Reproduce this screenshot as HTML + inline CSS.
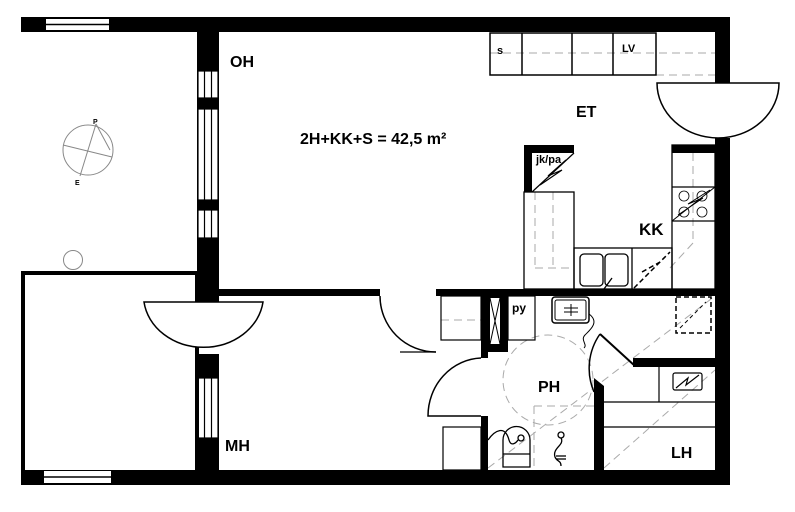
<!DOCTYPE html>
<html><head><meta charset="utf-8"><style>
html,body{margin:0;padding:0;background:#fff;}
svg{display:block;}
text{font-family:"Liberation Sans",Arial,sans-serif;font-weight:bold;fill:#000;}
</style></head><body>
<svg width="795" height="512" viewBox="0 0 795 512" xmlns="http://www.w3.org/2000/svg">
<rect width="795" height="512" fill="#fff"/>
<!-- dashed helper lines -->
<g stroke="#aaa" stroke-width="1" stroke-dasharray="8,5" fill="none">
<line x1="490" y1="53" x2="715" y2="53"/>
<line x1="656" y1="75" x2="715" y2="75"/>
<line x1="535" y1="192" x2="535" y2="268"/>
<line x1="535" y1="268" x2="574" y2="268"/>
<line x1="553" y1="192" x2="553" y2="268"/>
<line x1="693" y1="153" x2="693" y2="243"/>
<line x1="693" y1="243" x2="670" y2="268"/>
<line x1="441" y1="320" x2="481" y2="320"/>
<circle cx="548" cy="380" r="45"/>
<line x1="534" y1="406" x2="594" y2="406"/>
<line x1="534" y1="406" x2="534" y2="468"/>
<line x1="488" y1="468" x2="715" y2="296"/>
<line x1="604" y1="468" x2="715" y2="370"/>
</g>
<!-- outer walls -->
<rect x="21" y="17" width="709" height="15" fill="#000"/>
<rect x="21" y="470" width="709" height="15" fill="#000"/>
<rect x="715" y="17" width="15" height="66" fill="#000"/>
<rect x="715" y="138" width="15" height="347" fill="#000"/>
<!-- top-left window -->
<rect x="46" y="19" width="63" height="11" fill="#fff"/>
<line x1="46" y1="24.5" x2="109" y2="24.5" stroke="#000" stroke-width="1.5"/>
<!-- bottom-left window -->
<rect x="44" y="471" width="67" height="12" fill="#fff"/>
<line x1="44" y1="477" x2="111" y2="477" stroke="#000" stroke-width="1.5"/>
<!-- central vertical wall -->
<rect x="197" y="17" width="22" height="285" fill="#000"/>
<rect x="197" y="354" width="22" height="131" fill="#000"/>
<g fill="#fff" stroke="#000" stroke-width="1.2">
<rect x="198" y="71" width="20" height="27"/>
<rect x="198" y="109" width="20" height="91"/>
<rect x="198" y="210" width="20" height="28"/>
<rect x="198" y="378" width="20" height="60"/>
</g>
<g stroke="#000" stroke-width="1.2">
<line x1="204.5" y1="71" x2="204.5" y2="98"/><line x1="211.5" y1="71" x2="211.5" y2="98"/>
<line x1="204.5" y1="109" x2="204.5" y2="200"/><line x1="211.5" y1="109" x2="211.5" y2="200"/>
<line x1="204.5" y1="210" x2="204.5" y2="238"/><line x1="211.5" y1="210" x2="211.5" y2="238"/>
<line x1="204.5" y1="378" x2="204.5" y2="438"/><line x1="211.5" y1="378" x2="211.5" y2="438"/>
</g>
<!-- balcony box -->
<rect x="23" y="273" width="174" height="200" fill="none" stroke="#000" stroke-width="4"/>
<rect x="44" y="471" width="67" height="12" fill="#fff"/>
<line x1="44" y1="477" x2="111" y2="477" stroke="#000" stroke-width="1.5"/>
<!-- balcony door arc -->
<path d="M144,302 L263,302 A60,52 0 0 1 144,302 Z" fill="#fff" stroke="#000" stroke-width="1.5"/>
<rect x="197" y="354" width="22" height="24" fill="#000"/>
<!-- circles -->
<circle cx="73" cy="260" r="9.5" fill="none" stroke="#888" stroke-width="1"/>
<g stroke="#888" stroke-width="1" fill="none">
<circle cx="88" cy="150" r="25"/>
<line x1="96" y1="124" x2="80" y2="176"/>
<line x1="63" y1="145" x2="112" y2="157"/>
<line x1="96" y1="124" x2="110" y2="150"/>
</g>
<text x="93" y="124" font-size="7">P</text>
<text x="75" y="185" font-size="7">E</text>
<!-- interior wall MH/OH -->
<rect x="219" y="289" width="161" height="7" fill="#000"/>
<path d="M380,296 A56,56 0 0 0 436,352" fill="none" stroke="#000" stroke-width="1.5"/>
<line x1="400" y1="352" x2="436" y2="352" stroke="#000" stroke-width="1.2"/>
<rect x="436" y="289" width="279" height="7" fill="#000"/>
<!-- bathroom walls -->
<rect x="481" y="296" width="7" height="62" fill="#000"/>
<rect x="481" y="416" width="7" height="54" fill="#000"/>
<path d="M481,358 A55,58 0 0 0 428,416 L481,416" fill="none" stroke="#000" stroke-width="1.5"/>
<rect x="488" y="296" width="20" height="56" fill="#000"/>
<rect x="490" y="298" width="10" height="46" fill="#fff"/>
<line x1="490" y1="298" x2="500" y2="344" stroke="#000"/><line x1="500" y1="298" x2="490" y2="344" stroke="#000"/>
<rect x="508" y="296" width="27" height="44" fill="none" stroke="#000" stroke-width="1.2"/>
<rect x="441" y="296" width="40" height="44" fill="none" stroke="#000" stroke-width="1.2"/>
<rect x="443" y="427" width="38" height="43" fill="none" stroke="#000" stroke-width="1.2"/>
<!-- right bath wall and door -->
<rect x="594" y="395" width="10" height="75" fill="#000"/>
<polygon points="594,395 604,395 604,386 594,378" fill="#000"/>
<rect x="633" y="358" width="82" height="9" fill="#000"/>
<line x1="600" y1="334" x2="635" y2="366" stroke="#000" stroke-width="2"/>
<path d="M600,334 A60,60 0 0 0 594,392" fill="none" stroke="#000" stroke-width="1.5"/>
<!-- LH -->
<g stroke="#000" stroke-width="1.2" fill="none">
<line x1="604" y1="402" x2="715" y2="402"/>
<line x1="604" y1="427" x2="715" y2="427"/>
<line x1="659" y1="367" x2="659" y2="402"/>
<rect x="673" y="373" width="29" height="17" rx="2"/>
<polyline points="676,388 688,378 686,385 699,375"/>
</g>
<!-- dashed box right -->
<rect x="676" y="297" width="35" height="36" fill="none" stroke="#000" stroke-width="1.5" stroke-dasharray="5,3"/>
<line x1="680" y1="328" x2="706" y2="302" stroke="#000" stroke-dasharray="4,3"/>
<!-- sink -->
<rect x="552" y="297" width="37" height="26" rx="3" fill="none" stroke="#000" stroke-width="1.5"/>
<rect x="555" y="300" width="31" height="20" rx="2" fill="none" stroke="#000"/>
<line x1="564" y1="308" x2="578" y2="308" stroke="#000"/><line x1="564" y1="312" x2="578" y2="312" stroke="#000"/><line x1="571" y1="304" x2="571" y2="316" stroke="#000"/>
<path d="M589,314 C600,322 590,330 585,335 C580,340 588,345 584,348" fill="none" stroke="#000"/>
<!-- toilet -->
<g fill="none" stroke="#000" stroke-width="1.3">
<path d="M503,467 L503,440 A13,13 0 0 1 530,440 L530,467 Z"/>
<line x1="503" y1="454" x2="530" y2="454"/>
<circle cx="521" cy="438" r="3"/>
<path d="M488,440 C495,430 505,425 509,440 C511,447 516,443 518,440"/>
<circle cx="561" cy="435" r="3"/>
<path d="M561,438 C565,445 552,448 555,457 C557,462 561,460 561,466"/>
<line x1="556" y1="456" x2="566" y2="456"/><line x1="556" y1="459" x2="566" y2="459"/>
</g>
<!-- kitchen top cabinets -->
<g fill="none" stroke="#000" stroke-width="1.5">
<rect x="490" y="33" width="166" height="42"/>
<line x1="522" y1="33" x2="522" y2="75"/>
<line x1="572" y1="33" x2="572" y2="75"/>
<line x1="613" y1="33" x2="613" y2="75"/>
</g>
<!-- right door semicircle -->
<path d="M657,83 L779,83 A61,55 0 0 1 657,83 Z" fill="#fff" stroke="#000" stroke-width="1.5"/>
<!-- kitchen left block -->
<rect x="524" y="145" width="50" height="47" fill="#000"/>
<rect x="532" y="153" width="42" height="39" fill="#fff"/>
<line x1="532" y1="192" x2="574" y2="153" stroke="#000" stroke-width="1.2"/>
<polyline points="540,185 562,170 548,176 566,160" fill="none" stroke="#000" stroke-width="1.2"/>
<g fill="none" stroke="#000" stroke-width="1.3">
<rect x="524" y="192" width="50" height="97"/>
<rect x="574" y="248" width="98" height="41"/>
<line x1="632" y1="248" x2="632" y2="289"/>
<rect x="580" y="254" width="23" height="32" rx="4"/>
<rect x="605" y="254" width="23" height="32" rx="4"/>
<line x1="604" y1="289" x2="612" y2="278"/>
<rect x="672" y="145" width="43" height="144"/>
<line x1="672" y1="187" x2="715" y2="187"/>
<line x1="672" y1="221" x2="715" y2="221"/>
<circle cx="684" cy="196" r="5" stroke-width="0.8"/><circle cx="702" cy="196" r="5" stroke-width="0.8"/>
<circle cx="684" cy="212" r="5" stroke-width="0.8"/><circle cx="702" cy="212" r="5" stroke-width="0.8"/>
<line x1="672" y1="221" x2="715" y2="187" stroke-width="1"/>
<polyline points="678,215 703,198 688,204 710,190" stroke-width="1"/>
</g>
<rect x="672" y="145" width="43" height="8" fill="#000"/>
<g stroke="#000" stroke-width="1.5" stroke-dasharray="5,3" fill="none">
<line x1="634" y1="288" x2="670" y2="252"/>
<line x1="642" y1="272" x2="660" y2="262"/>
</g>
<!-- labels -->
<text x="230" y="67" font-size="16">OH</text>
<text x="300" y="144" font-size="16">2H+KK+S = 42,5 m²</text>
<text x="576" y="117" font-size="16">ET</text>
<text x="639" y="235" font-size="17">KK</text>
<text x="225" y="451" font-size="16">MH</text>
<text x="538" y="392" font-size="16">PH</text>
<text x="671" y="458" font-size="16">LH</text>
<text x="497" y="54" font-size="11">s</text>
<text x="622" y="52" font-size="11">LV</text>
<text x="536" y="163" font-size="11">jk/pa</text>
<text x="512" y="312" font-size="12">py</text>
</svg>
</body></html>
